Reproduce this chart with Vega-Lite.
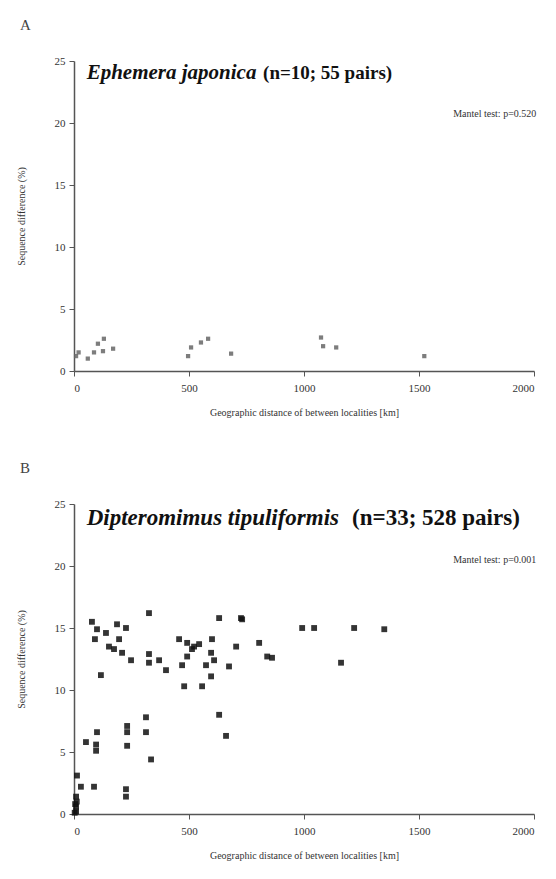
{
  "$schema": "https://vega.github.io/schema/vega-lite/v6.json",
  "background": "white",
  "padding": {"left": 16, "top": 18, "right": 5, "bottom": 5},
  "spacing": 44,
  "config": {
    "view": {"stroke": null},
    "font": "Liberation Serif",
    "axis": {
      "grid": false,
      "domainColor": "#555",
      "domainWidth": 1.5,
      "tickColor": "#555",
      "tickSize": 5,
      "format": "d",
      "labelFont": "Liberation Serif",
      "labelFontSize": 11,
      "labelColor": "#333",
      "titleFont": "Liberation Serif",
      "titleFontSize": 10,
      "titleFontWeight": "normal",
      "titleColor": "#333"
    },
    "title": {"font": "Liberation Serif", "fontSize": 15, "fontWeight": "normal", "color": "#444", "anchor": "start", "frame": "bounds", "offset": 22, "dx": 4}
  },
  "datasets": {
    "a": [
      {"km": 9, "diff": 1.2}, {"km": 20, "diff": 1.5}, {"km": 87, "diff": 1.5}, {"km": 104, "diff": 2.2},
      {"km": 126, "diff": 1.6}, {"km": 130, "diff": 2.6}, {"km": 170, "diff": 1.8}, {"km": 60, "diff": 1.0},
      {"km": 496, "diff": 1.2}, {"km": 509, "diff": 1.9}, {"km": 552, "diff": 2.3}, {"km": 583, "diff": 2.6},
      {"km": 683, "diff": 1.4}, {"km": 1074, "diff": 2.7}, {"km": 1083, "diff": 2.0}, {"km": 1140, "diff": 1.9},
      {"km": 1523, "diff": 1.2}
    ],
    "b": [
      {"km": 100, "diff": 14.9}, {"km": 139, "diff": 14.6}, {"km": 226, "diff": 15.0}, {"km": 152, "diff": 13.5},
      {"km": 174, "diff": 13.3}, {"km": 209, "diff": 13.0}, {"km": 248, "diff": 12.4}, {"km": 117, "diff": 11.2},
      {"km": 326, "diff": 16.2}, {"km": 326, "diff": 12.2}, {"km": 326, "diff": 12.9}, {"km": 370, "diff": 12.4},
      {"km": 400, "diff": 11.6}, {"km": 492, "diff": 13.8}, {"km": 492, "diff": 12.7}, {"km": 513, "diff": 13.3},
      {"km": 600, "diff": 14.1}, {"km": 596, "diff": 13.0}, {"km": 609, "diff": 12.4}, {"km": 631, "diff": 15.8},
      {"km": 726, "diff": 15.8}, {"km": 705, "diff": 13.5}, {"km": 674, "diff": 11.9}, {"km": 596, "diff": 11.1},
      {"km": 479, "diff": 10.3}, {"km": 557, "diff": 10.3}, {"km": 522, "diff": 13.5}, {"km": 574, "diff": 12.0},
      {"km": 78, "diff": 15.5}, {"km": 91, "diff": 14.1}, {"km": 187, "diff": 15.3}, {"km": 196, "diff": 14.1},
      {"km": 457, "diff": 14.1}, {"km": 470, "diff": 12.0}, {"km": 544, "diff": 13.7},
      {"km": 731, "diff": 15.7}, {"km": 805, "diff": 13.8}, {"km": 861, "diff": 12.6}, {"km": 840, "diff": 12.7},
      {"km": 992, "diff": 15.0}, {"km": 1044, "diff": 15.0}, {"km": 1218, "diff": 15.0}, {"km": 1349, "diff": 14.9},
      {"km": 1161, "diff": 12.2},
      {"km": 96, "diff": 5.1}, {"km": 96, "diff": 5.6}, {"km": 100, "diff": 6.6}, {"km": 231, "diff": 6.6},
      {"km": 231, "diff": 5.5}, {"km": 231, "diff": 7.1}, {"km": 313, "diff": 7.8}, {"km": 313, "diff": 6.6},
      {"km": 335, "diff": 4.4}, {"km": 631, "diff": 8.0}, {"km": 661, "diff": 6.3}, {"km": 226, "diff": 2.0},
      {"km": 226, "diff": 1.4}, {"km": 87, "diff": 2.2}, {"km": 30, "diff": 2.2}, {"km": 13, "diff": 3.1},
      {"km": 9, "diff": 1.4}, {"km": 9, "diff": 0.6}, {"km": 9, "diff": 0.2}, {"km": 52, "diff": 5.8},
      {"km": 3, "diff": 0.1}, {"km": 5, "diff": 0.8}, {"km": 12, "diff": 1.0}
    ]
  },
  "vconcat": [
    {
      "title": {"text": "A"},
      "width": 460,
      "height": 310,
      "layer": [
        {
          "data": {"name": "a"},
          "mark": {"type": "point", "shape": "square", "filled": true, "size": 18, "color": "#666", "opacity": 0.85},
          "encoding": {
            "x": {"field": "km", "type": "quantitative", "scale": {"domain": [0, 2000], "nice": false},
                  "axis": {"values": [0, 500, 1000, 1500, 2000], "labelPadding": 6, "titlePadding": 14, "title": "Geographic distance of between localities [km]"}},
            "y": {"field": "diff", "type": "quantitative", "scale": {"domain": [0, 25], "nice": false},
                  "axis": {"values": [0, 5, 10, 15, 20, 25], "labelPadding": 4, "titlePadding": 28, "title": "Sequence difference (%)"}}
          }
        },
        {
          "data": {"values": [{"t": "Ephemera japonica"}]},
          "mark": {"type": "text", "align": "left", "baseline": "middle", "fontSize": 21, "fontWeight": "bold", "fontStyle": "italic", "font": "Liberation Serif", "color": "#111"},
          "encoding": {"x": {"datum": 55, "type": "quantitative"}, "y": {"datum": 24.0, "type": "quantitative"}, "text": {"field": "t"}}
        },
        {
          "data": {"values": [{"t": "(n=10; 55 pairs)"}]},
          "mark": {"type": "text", "align": "left", "baseline": "middle", "fontSize": 19, "fontWeight": "bold", "font": "Liberation Serif", "color": "#111"},
          "encoding": {"x": {"datum": 822, "type": "quantitative"}, "y": {"datum": 24.0, "type": "quantitative"}, "text": {"field": "t"}}
        },
        {
          "data": {"values": [{"t": "Mantel test: p=0.520"}]},
          "mark": {"type": "text", "align": "right", "baseline": "middle", "fontSize": 10, "font": "Liberation Serif", "color": "#333"},
          "encoding": {"x": {"datum": 2010, "type": "quantitative"}, "y": {"datum": 20.7, "type": "quantitative"}, "text": {"field": "t"}}
        }
      ]
    },
    {
      "title": {"text": "B"},
      "width": 460,
      "height": 310,
      "layer": [
        {
          "data": {"name": "b"},
          "mark": {"type": "point", "shape": "square", "filled": true, "size": 34, "color": "#111", "opacity": 0.85},
          "encoding": {
            "x": {"field": "km", "type": "quantitative", "scale": {"domain": [0, 2000], "nice": false},
                  "axis": {"values": [0, 500, 1000, 1500, 2000], "labelPadding": 6, "titlePadding": 14, "title": "Geographic distance of between localities [km]"}},
            "y": {"field": "diff", "type": "quantitative", "scale": {"domain": [0, 25], "nice": false},
                  "axis": {"values": [0, 5, 10, 15, 20, 25], "labelPadding": 4, "titlePadding": 28, "title": "Sequence difference (%)"}}
          }
        },
        {
          "data": {"values": [{"t": "Dipteromimus tipuliformis"}]},
          "mark": {"type": "text", "align": "left", "baseline": "middle", "fontSize": 23, "fontWeight": "bold", "fontStyle": "italic", "font": "Liberation Serif", "color": "#111"},
          "encoding": {"x": {"datum": 55, "type": "quantitative"}, "y": {"datum": 23.9, "type": "quantitative"}, "text": {"field": "t"}}
        },
        {
          "data": {"values": [{"t": "(n=33; 528 pairs)"}]},
          "mark": {"type": "text", "align": "left", "baseline": "middle", "fontSize": 23, "fontWeight": "bold", "font": "Liberation Serif", "color": "#111"},
          "encoding": {"x": {"datum": 1209, "type": "quantitative"}, "y": {"datum": 23.9, "type": "quantitative"}, "text": {"field": "t"}}
        },
        {
          "data": {"values": [{"t": "Mantel test: p=0.001"}]},
          "mark": {"type": "text", "align": "right", "baseline": "middle", "fontSize": 10, "font": "Liberation Serif", "color": "#333"},
          "encoding": {"x": {"datum": 2010, "type": "quantitative"}, "y": {"datum": 20.5, "type": "quantitative"}, "text": {"field": "t"}}
        }
      ]
    }
  ]
}
